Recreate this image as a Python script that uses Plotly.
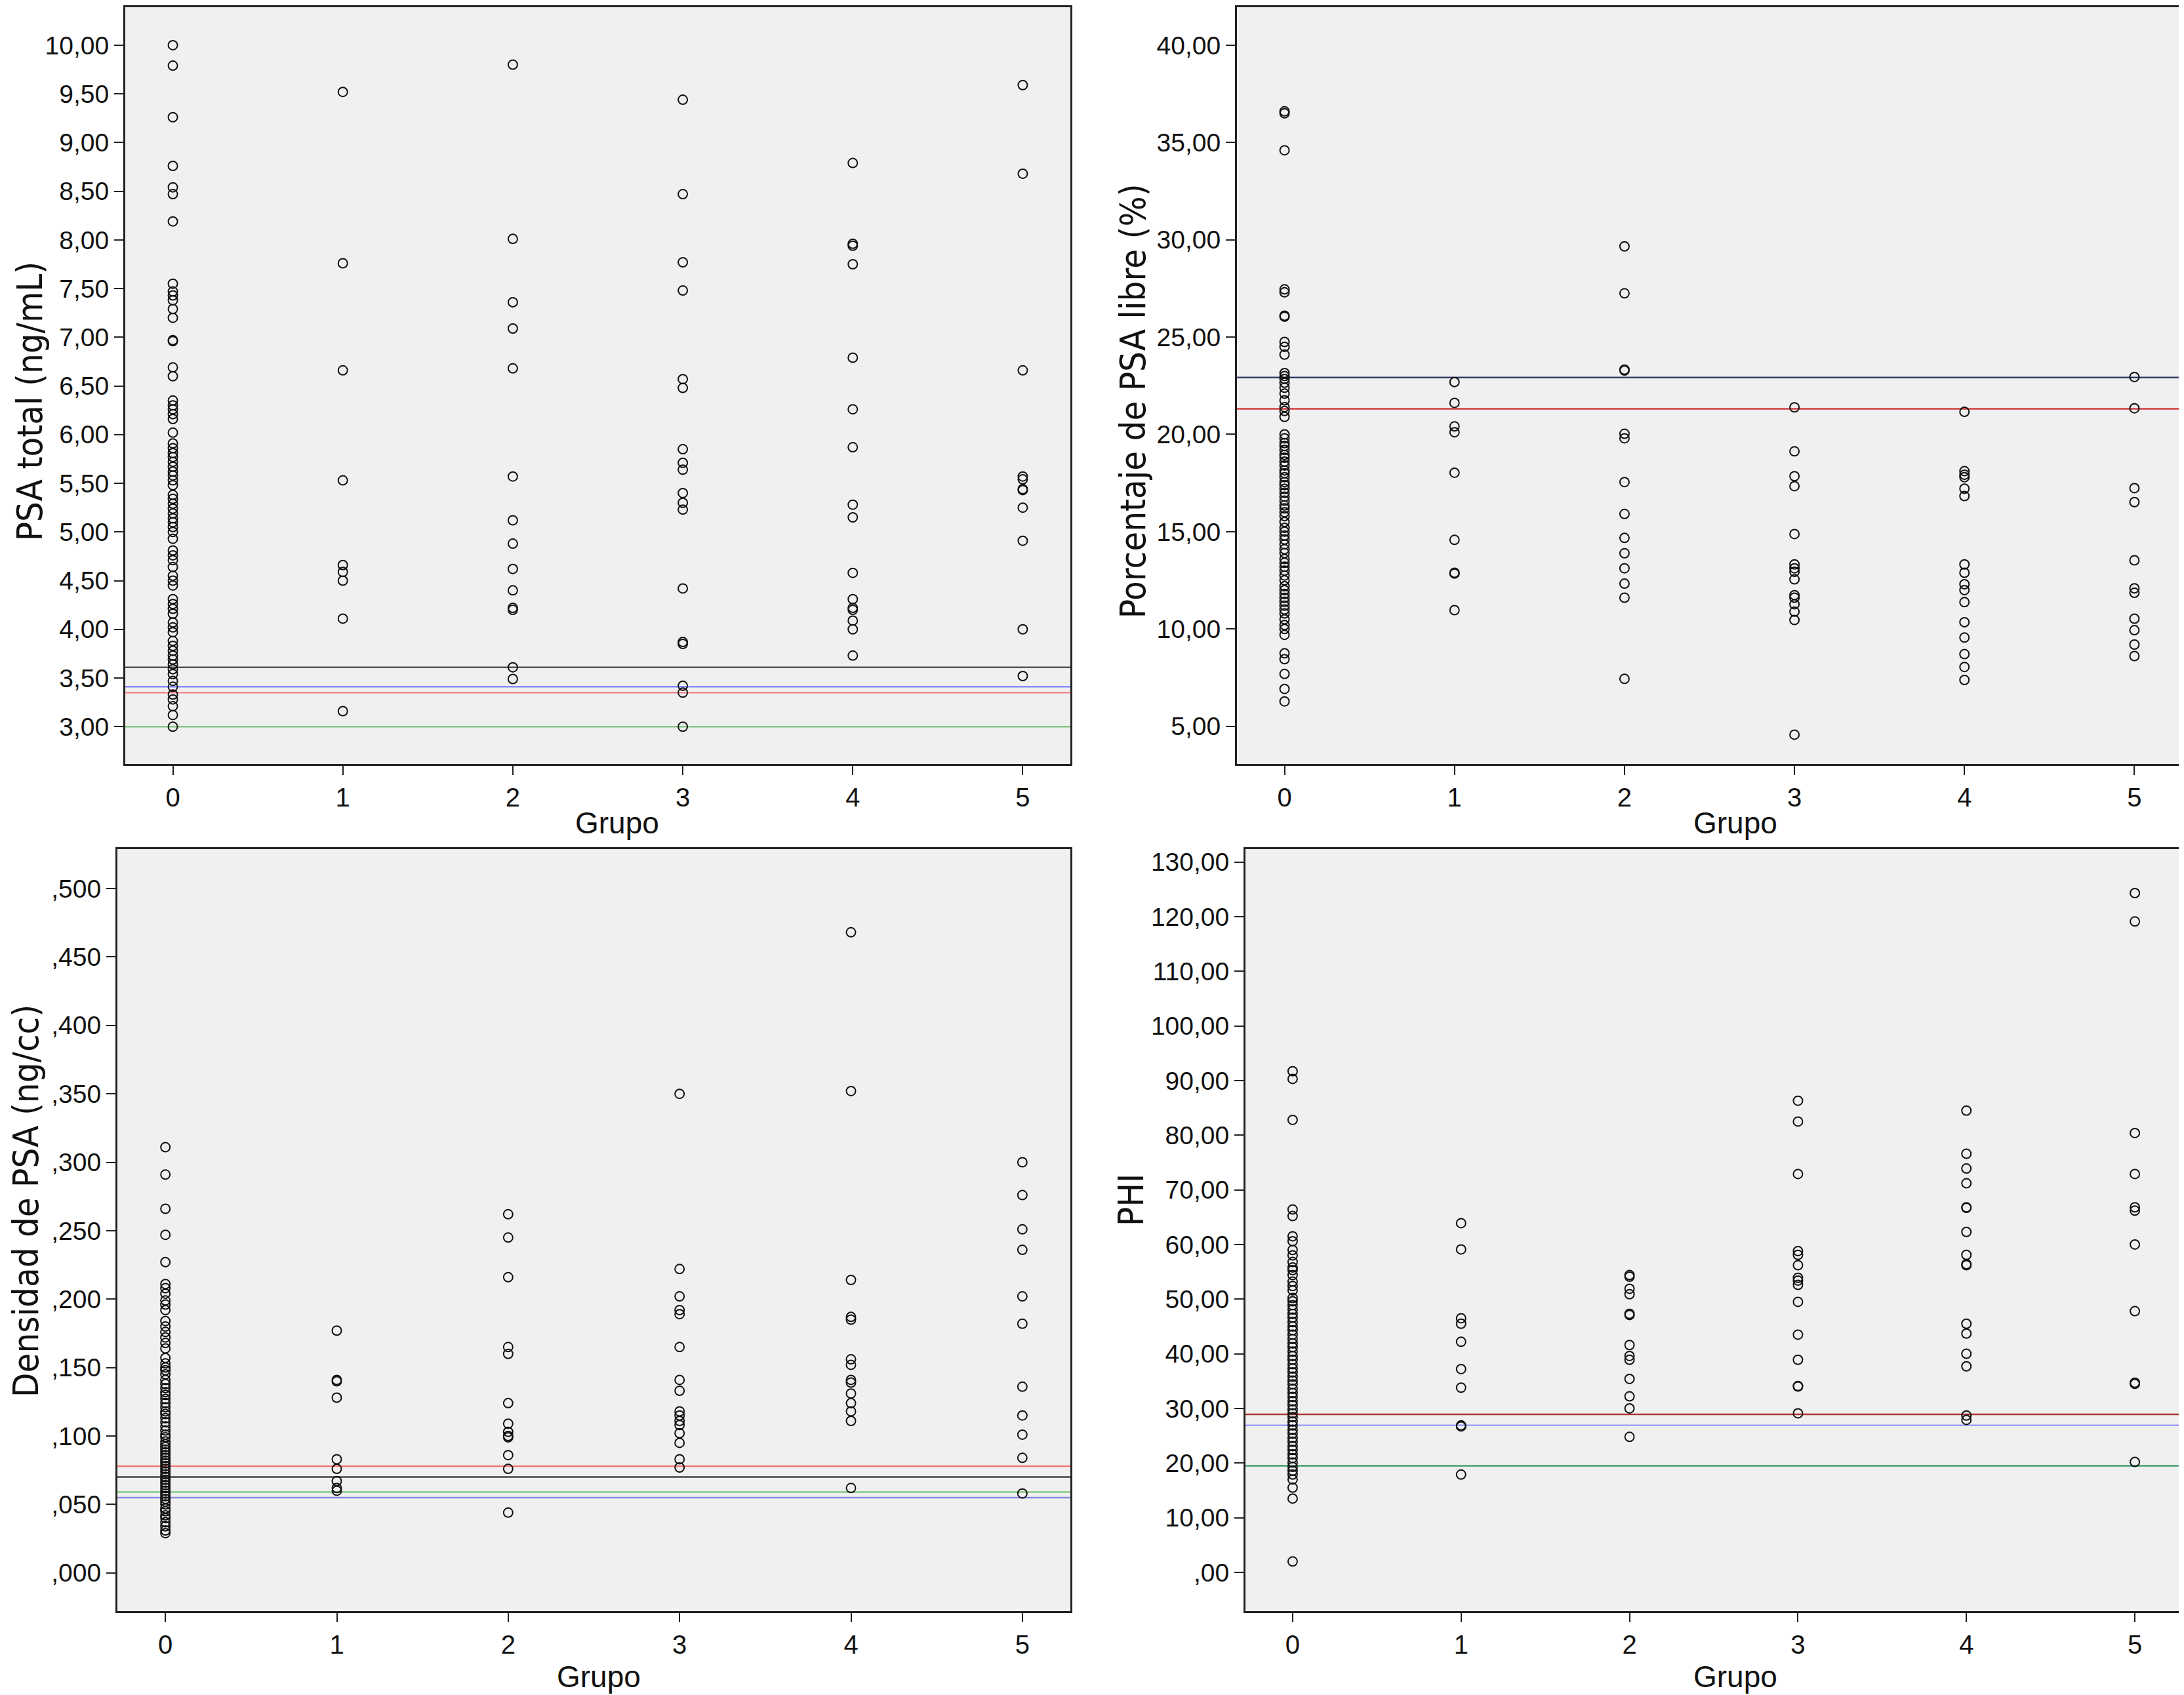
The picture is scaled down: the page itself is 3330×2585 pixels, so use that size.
import plotly.graph_objects as go

# grupos 0..5
grupos = [0, 1, 2, 3, 4, 5]

# PSA total (ng/mL)
psa_total = {
    0: [10.00, 9.79, 9.26, 8.76, 8.54, 8.47, 8.19, 7.55, 7.47, 7.43, 7.38, 7.29, 7.20, 6.97, 6.96,
        6.69, 6.60, 6.35, 6.30, 6.26, 6.21, 6.16, 6.02, 5.91, 5.86, 5.81, 5.77, 5.72, 5.67, 5.62,
        5.58, 5.53, 5.48, 5.38, 5.34, 5.29, 5.24, 5.19, 5.14, 5.10, 5.05, 5.00, 4.93, 4.81, 4.76,
        4.71, 4.64, 4.55, 4.50, 4.45, 4.31, 4.26, 4.21, 4.16, 4.07, 4.02, 3.97, 3.88, 3.83, 3.78,
        3.73, 3.69, 3.64, 3.59, 3.54, 3.47, 3.41, 3.33, 3.28, 3.21, 3.12, 3.00],
    1: [9.52, 7.76, 6.66, 5.53, 4.66, 4.59, 4.50, 4.11, 3.16],
    2: [9.80, 8.01, 7.36, 7.09, 6.68, 5.57, 5.12, 4.88, 4.62, 4.40, 4.22, 4.20, 3.61, 3.49],
    3: [9.44, 8.47, 7.77, 7.48, 6.57, 6.48, 5.85, 5.71, 5.64, 5.40, 5.30, 5.23, 4.42, 3.87,
        3.85, 3.42, 3.35, 3.00],
    4: [8.79, 7.96, 7.94, 7.75, 6.79, 6.26, 5.87, 5.28, 5.15, 4.58, 4.31, 4.22, 4.20, 4.09,
        4.00, 3.73],
    5: [9.59, 8.68, 6.66, 5.57, 5.54, 5.44, 5.43, 5.25, 4.91, 4.00, 3.52],
}

# Porcentaje de PSA libre (%)
psa_libre = {
    0: [36.6, 36.5, 34.6, 27.45, 27.3, 26.1, 26.05, 24.75, 24.5, 24.1, 23.15, 23.0, 22.85, 22.65,
        22.4, 22.1, 21.75, 21.4, 21.2, 20.9, 20.0, 19.8, 19.55, 19.4, 19.2, 18.95, 18.8, 18.6,
        18.4, 18.15, 18.0, 17.8, 17.55, 17.4, 17.2, 17.0, 16.8, 16.6, 16.35, 16.2, 16.0, 15.8,
        15.5, 15.2, 15.0, 14.8, 14.6, 14.35, 14.1, 13.9, 13.6, 13.4, 13.2, 13.0, 12.75, 12.5,
        12.2, 12.0, 11.8, 11.6, 11.4, 11.2, 11.0, 10.8, 10.5, 10.2, 10.0, 9.7, 8.75, 8.45,
        7.69, 6.92, 6.28],
    1: [22.69, 21.62, 20.41, 20.11, 18.03, 14.58, 12.89, 12.85, 10.97],
    2: [29.66, 27.25, 23.33, 23.28, 20.03, 19.80, 17.55, 15.91, 14.68, 13.89, 13.12, 12.33,
        11.61, 7.44],
    3: [21.39, 19.13, 17.85, 17.34, 14.88, 13.32, 13.12, 12.94, 12.55, 11.74, 11.61, 11.27,
        10.89, 10.46, 4.57],
    4: [21.16, 18.11, 17.93, 17.80, 17.21, 16.83, 13.32, 12.89, 12.30, 12.00, 11.38, 10.35,
        9.56, 8.71, 8.05, 7.38],
    5: [22.95, 21.34, 17.24, 16.52, 13.53, 12.09, 11.86, 10.53, 9.94, 9.20, 8.61],
}

# Densidad de PSA (ng/cc)
psa_densidad = {
    0: [0.311, 0.291, 0.266, 0.247, 0.227, 0.211, 0.208, 0.204, 0.199, 0.196, 0.192, 0.184,
        0.180, 0.176, 0.172, 0.168, 0.164, 0.157, 0.153, 0.150, 0.148, 0.145, 0.141, 0.138,
        0.135, 0.132, 0.130, 0.127, 0.124, 0.121, 0.118, 0.116, 0.113, 0.110, 0.107, 0.104,
        0.101, 0.099, 0.096, 0.094, 0.092, 0.090, 0.088, 0.086, 0.084, 0.082, 0.080, 0.078,
        0.076, 0.074, 0.072, 0.070, 0.068, 0.066, 0.064, 0.062, 0.060, 0.058, 0.056, 0.054,
        0.052, 0.050, 0.047, 0.045, 0.042, 0.040, 0.037, 0.034, 0.031, 0.029],
    1: [0.177, 0.141, 0.140, 0.128, 0.083, 0.076, 0.067, 0.062, 0.060],
    2: [0.262, 0.245, 0.216, 0.165, 0.160, 0.124, 0.109, 0.103, 0.100, 0.099, 0.086, 0.076,
        0.044],
    3: [0.350, 0.222, 0.202, 0.192, 0.189, 0.165, 0.141, 0.133, 0.118, 0.115, 0.111, 0.108,
        0.102, 0.095, 0.083, 0.077],
    4: [0.468, 0.352, 0.214, 0.187, 0.185, 0.156, 0.152, 0.141, 0.139, 0.131, 0.124, 0.118,
        0.111, 0.062],
    5: [0.300, 0.276, 0.251, 0.236, 0.202, 0.182, 0.136, 0.115, 0.101, 0.084, 0.058],
}

# PHI
phi = {
    0: [91.7, 90.3, 82.8, 66.4, 65.2, 61.5, 60.6, 59.0, 58.0, 56.8, 55.8, 55.3, 54.4, 53.2,
        52.4, 51.6, 50.2, 49.6, 48.9, 48.1, 47.3, 46.6, 45.8, 45.0, 44.3, 43.5, 42.7, 41.9,
        41.2, 40.4, 39.6, 38.9, 38.1, 37.3, 36.6, 35.8, 35.1, 34.4, 33.6, 32.8, 32.1, 31.3,
        30.6, 29.8, 29.1, 28.4, 27.6, 26.9, 26.1, 25.4, 24.6, 23.9, 23.1, 22.4, 21.6, 20.9,
        20.1, 19.3, 18.6, 17.9, 17.0, 15.5, 13.5, 2.0],
    1: [63.9, 59.1, 46.5, 45.5, 42.2, 37.2, 33.8, 26.9, 26.7, 17.9],
    2: [54.4, 54.1, 51.9, 50.9, 47.3, 47.1, 41.6, 39.6, 38.9, 35.4, 32.2, 30.0, 24.8],
    3: [86.3, 82.5, 72.9, 58.8, 58.1, 56.2, 53.9, 53.4, 52.6, 49.5, 43.5, 38.9, 34.1, 34.0,
        29.1],
    4: [84.5, 76.6, 73.9, 71.2, 66.8, 66.7, 62.3, 58.1, 56.4, 56.2, 45.5, 43.7, 40.0, 37.7,
        28.7, 27.9],
    5: [124.3, 119.1, 80.4, 72.9, 66.8, 66.2, 60.0, 47.8, 34.7, 34.5, 20.2],
}

# lineas de referencia (valor, color)
ref_psa_total = [(3.61, "#555555"), (3.41, "#8a8aff"), (3.35, "#f08a8a"), (3.00, "#86c886")]
ref_psa_libre = [(22.92, "#333a66"), (21.31, "#d04040")]
ref_psa_densidad = [(0.078, "#f07a7a"), (0.070, "#444444"), (0.059, "#86c886"), (0.055, "#8a8ae6")]
ref_phi = [(28.9, "#b03838"), (26.9, "#a0a0ff"), (19.5, "#40a070")]

# ticks
psa_total_ticks = [3.0, 3.5, 4.0, 4.5, 5.0, 5.5, 6.0, 6.5, 7.0, 7.5, 8.0, 8.5, 9.0, 9.5, 10.0]
psa_total_labels = ["3,00", "3,50", "4,00", "4,50", "5,00", "5,50", "6,00", "6,50", "7,00",
                    "7,50", "8,00", "8,50", "9,00", "9,50", "10,00"]
psa_libre_ticks = [5, 10, 15, 20, 25, 30, 35, 40]
psa_libre_labels = ["5,00", "10,00", "15,00", "20,00", "25,00", "30,00", "35,00", "40,00"]
psa_densidad_ticks = [0.0, 0.05, 0.1, 0.15, 0.2, 0.25, 0.3, 0.35, 0.4, 0.45, 0.5]
psa_densidad_labels = [",000", ",050", ",100", ",150", ",200", ",250", ",300", ",350", ",400",
                       ",450", ",500"]
phi_ticks = [0, 10, 20, 30, 40, 50, 60, 70, 80, 90, 100, 110, 120, 130]
phi_labels = [",00", "10,00", "20,00", "30,00", "40,00", "50,00", "60,00", "70,00", "80,00",
              "90,00", "100,00", "110,00", "120,00", "130,00"]

# la pagina tiene 8px de margen en el body: la figura empieza en (8, 8)
OFF = 8
W, H = 3330 - OFF, 2585 - OFF


def px(x):
    return (x - OFF) / W


def py(y):
    return min(1.0, 1 - (y - OFF) / H)


paneles = [
    # datos, refs, ticks, labels, rango y, x px, y px, titulo y, pos titulo y, pos "Grupo"
    (psa_total, ref_psa_total, psa_total_ticks, psa_total_labels, [2.62, 10.39],
     (191, 1632), (2, 1163), "PSA total (ng/mL)", (45, 610), (941, 1253)),
    (psa_libre, ref_psa_libre, psa_libre_ticks, psa_libre_labels, [3.08, 41.95],
     (1886, 3327), (2, 1163), "Porcentaje de PSA libre (%)", (1727, 610), (2646, 1253)),
    (psa_densidad, ref_psa_densidad, psa_densidad_ticks, psa_densidad_labels, [-0.028, 0.529],
     (179, 1632), (1293, 2457), "Densidad de PSA (ng/cc)", (40, 1831), (913, 2557)),
    (phi, ref_phi, phi_ticks, phi_labels, [-7.1, 132.4],
     (1899, 3327), (1293, 2457), "PHI", (1725, 1829), (2646, 2557)),
]

fig = go.Figure()
shapes = []
annotations = []
layout_axes = {}

for i, (datos, refs, ticks, labels, yrange, xpx, ypx, ytitle, ypos, gpos) in enumerate(paneles):
    n = "" if i == 0 else str(i + 1)
    xs, ys = [], []
    for g in grupos:
        xs += [g] * len(datos[g])
        ys += datos[g]
    fig.add_trace(go.Scatter(
        x=xs, y=ys, mode="markers", xaxis="x" + n, yaxis="y" + n, showlegend=False,
        marker=dict(symbol="circle-open", size=14, color="#111111", line=dict(width=2, color="#111111")),
    ))
    for val, col in refs:
        shapes.append(dict(type="line", xref="x" + n + " domain", yref="y" + n, x0=0, x1=1,
                           y0=val, y1=val, line=dict(color=col, width=2.5), layer="below"))
    layout_axes["xaxis" + n] = dict(
        domain=[px(xpx[0]), px(xpx[1])], anchor="y" + n, range=[-0.28, 5.28], tickvals=grupos,
        ticktext=[str(g) for g in grupos], ticks="outside", ticklen=14, tickwidth=2,
        tickcolor="#222", showline=True, linecolor="#222", linewidth=3, mirror=True,
        showgrid=False, zeroline=False, tickfont=dict(size=40, color="#111"),
    )
    layout_axes["yaxis" + n] = dict(
        domain=[py(ypx[1]), py(ypx[0])], anchor="x" + n, range=yrange, tickvals=ticks,
        ticktext=labels, ticks="outside", ticklen=14, tickwidth=2, tickcolor="#222",
        showline=True, linecolor="#222", linewidth=3, mirror=True, showgrid=False,
        zeroline=False, tickfont=dict(size=39, color="#111"),
    )
    annotations.append(dict(text=ytitle, x=px(ypos[0]), y=py(ypos[1]), xref="paper", yref="paper",
                            textangle=-90, showarrow=False, xanchor="center", yanchor="middle",
                            font=dict(size=54, color="#111",
                                      family="Liberation Sans Narrow, DejaVu Sans Condensed, Arial")))
    annotations.append(dict(text="Grupo", x=px(gpos[0]), y=py(gpos[1]), xref="paper", yref="paper",
                            showarrow=False, xanchor="center", yanchor="middle",
                            font=dict(size=46, color="#111")))

fig.update_layout(
    width=W, height=H,
    margin=dict(l=0, r=0, t=0, b=0),
    paper_bgcolor="white", plot_bgcolor="#f0f0f0",
    font=dict(family="Liberation Sans, Arial, sans-serif", color="#111"),
    shapes=shapes, annotations=annotations,
    **layout_axes,
)

fig.write_html("out.html")
